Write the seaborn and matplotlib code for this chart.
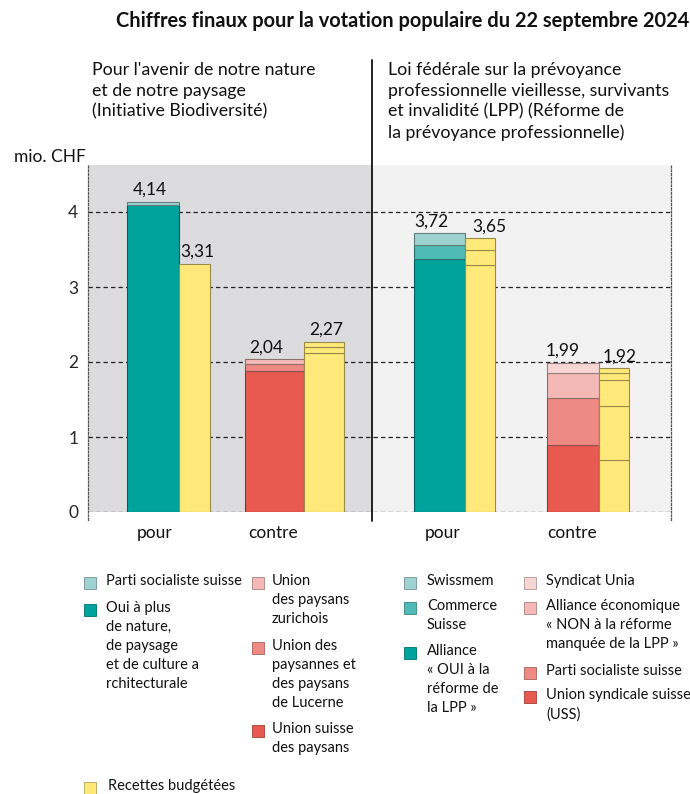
import matplotlib
matplotlib.use("Agg")
import matplotlib.pyplot as plt
import matplotlib.colors as mcolors
from matplotlib.patches import Rectangle
from matplotlib.lines import Line2D
import seaborn as sns

# ---------------- data ----------------
title = "Chiffres finaux pour la votation populaire du 22 septembre 2024"
left_subtitle = "Pour l'avenir de notre nature\net de notre paysage\n(Initiative Biodiversité)"
right_subtitle = ("Loi fédérale sur la prévoyance\nprofessionnelle vieillesse, survivants\n"
                  "et invalidité (LPP) (Réforme de\nla prévoyance professionnelle)")
unit_label = "mio. CHF"
categories = ["pour", "contre", "pour", "contre"]
y_ticks = [0, 1, 2, 3, 4]

# Biodiversité – pour (bottom to top)
bio_pour_names = ["Oui à plus\nde nature,\nde paysage\net de culture a\nrchitecturale",
                  "Parti socialiste suisse"]
bio_pour_values = [4.10, 0.04]
bio_budget_pour = [3.31]
# Biodiversité – contre (bottom to top)
bio_contre_names = ["Union suisse\ndes paysans",
                    "Union des\npaysannes et\ndes paysans\nde Lucerne",
                    "Union\ndes paysans\nzurichois"]
bio_contre_values = [1.88, 0.10, 0.06]
bio_budget_contre = [2.12, 0.08, 0.07]
# LPP – pour (bottom to top)
lpp_pour_names = ["Alliance\n« OUI à la\nréforme de\nla LPP »", "Commerce\nSuisse", "Swissmem"]
lpp_pour_values = [3.38, 0.18, 0.16]
lpp_budget_pour = [3.29, 0.20, 0.16]
# LPP – contre (bottom to top)
lpp_contre_names = ["Union syndicale suisse\n(USS)", "Parti socialiste suisse",
                    "Alliance économique\n« NON à la réforme\nmanquée de la LPP »", "Syndicat Unia"]
lpp_contre_values = [0.90, 0.62, 0.34, 0.13]
lpp_budget_contre = [0.70, 0.71, 0.35, 0.10, 0.06]
budget_name = "Recettes budgétées"

# ---------------- style ----------------
TEAL = "#00A29C"
TEAL_M = "#4FBAB6"
TEAL_L = "#9ED3D1"
RED = "#E8594F"
SALMON = "#EE8A83"
PINK = "#F4B9B6"
PINK_L = "#F8D6D4"
YELLOW = "#FFE97A"

bio_pour_colors = [TEAL, TEAL_L]
bio_contre_colors = [RED, SALMON, PINK]
lpp_pour_colors = [TEAL, TEAL_M, TEAL_L]
lpp_contre_colors = [RED, SALMON, PINK, PINK_L]

sns.set_style("white")
FONT = ["Lato", "DejaVu Sans"]
plt.rcParams["font.family"] = FONT

W, H = 690, 794
fig = plt.figure(figsize=(W / 100, H / 100), dpi=100)

def fx(px):
    return px / W

def fy(py):
    return 1 - py / H

ax_left, ax_right, ax_top, ax_bot = 88, 671, 165, 512
ax = fig.add_axes([fx(ax_left), fy(ax_bot), fx(ax_right - ax_left), (ax_bot - ax_top) / H])
px_per_unit = 75.0
ymax = (ax_bot - ax_top) / px_per_unit
ax.set_xlim(ax_left, ax_right)
ax.set_ylim(0, ymax)

# panel backgrounds
divider = 372
ax.add_patch(Rectangle((ax_left, 0), divider - ax_left, 10, facecolor="#DCDCDE", edgecolor="none", zorder=0))
ax.add_patch(Rectangle((divider, 0), ax_right - divider, 10, facecolor="#F2F2F2", edgecolor="none", zorder=0))

# gridlines
ax.set_yticks(y_ticks)
ax.set_yticklabels([str(t) for t in y_ticks], fontsize=12.5)
ax.tick_params(axis="y", length=0, pad=7)
ax.set_xticks([])
for t in y_ticks:
    ax.axhline(t, color="#222222", lw=0.9, ls=(0, (3.5, 2.5)), zorder=1)

for s in ["top", "bottom"]:
    ax.spines[s].set_visible(False)
for s in ["left", "right"]:
    ax.spines[s].set_linestyle((0, (1.5, 1.5)))
    ax.spines[s].set_color("#555555")
    ax.spines[s].set_linewidth(0.9)
    ax.spines[s].set_bounds(-0.11, ymax)
ax.set_facecolor("none")

def darker(c, f=0.55):
    r, g, b = mcolors.to_rgb(c)
    return (r * f, g * f, b * f)

def stack(x0, width, values, colors):
    bottom = 0.0
    for v, c in zip(values, colors):
        ax.bar(x0, v, width=width, bottom=bottom, align="edge", color=c,
               edgecolor=darker(c, 0.6), linewidth=0.8, zorder=3)
        bottom += v
    return bottom

def label(xc, total, dy=0.0):
    ax.text(xc, total + 0.05 + dy, f"{total:.2f}".replace(".", ","), ha="center", va="bottom",
            fontsize=12.5, color="#111111", zorder=5)

# bar layout (left edge px, width px)
t = stack(127, 51.5, bio_pour_values, bio_pour_colors); label(150, t)
t = stack(178.5, 31, bio_budget_pour, [YELLOW] * len(bio_budget_pour)); label(197, t)
t = stack(244.5, 59, bio_contre_values, bio_contre_colors); label(266, t)
t = stack(303.5, 40, bio_budget_contre, [YELLOW] * len(bio_budget_contre)); label(326, t)
t = stack(413.5, 51, lpp_pour_values, lpp_pour_colors); label(431, t)
t = stack(464.5, 30, lpp_budget_pour, [YELLOW] * len(lpp_budget_pour)); label(489, t)
t = stack(546.5, 52, lpp_contre_values, lpp_contre_colors); label(563, t)
t = stack(598.5, 30, lpp_budget_contre, [YELLOW] * len(lpp_budget_contre)); label(620, t)

# category labels
for xc, name in zip([155, 273, 443, 572], categories):
    fig.text(fx(xc), fy(533), name, ha="center", va="center", fontsize=12.5, color="#111111")

# divider line
fig.add_artist(Line2D([fx(divider), fx(divider)], [fy(60), fy(521)], color="#111111", lw=1.3))

# titles
fig.text(fx(689), fy(21), title, ha="right", va="center", fontsize=14.4, fontweight="bold", color="#111111")
fig.text(fx(92), fy(62), left_subtitle, ha="left", va="top", fontsize=12.8, linespacing=1.36, color="#111111")
fig.text(fx(388), fy(62), right_subtitle, ha="left", va="top", fontsize=12.8, linespacing=1.36, color="#111111")
fig.text(fx(14), fy(157), unit_label, ha="left", va="center", fontsize=12.5, color="#111111")

# legend
def legend_item(sx, tx, y, text, color):
    fig.add_artist(Rectangle((fx(sx), fy(y + 6)), fx(12), 12 / H, facecolor=color,
                             edgecolor=darker(color, 0.7), lw=0.6))
    fig.text(fx(tx), fy(y - 9), text, ha="left", va="top", fontsize=10.5, linespacing=1.45, color="#111111")

legend_item(84, 106, 583, bio_pour_names[1], bio_pour_colors[1])
legend_item(84, 106, 610, bio_pour_names[0], bio_pour_colors[0])
legend_item(252, 272, 583, bio_contre_names[2], bio_contre_colors[2])
legend_item(252, 272, 648, bio_contre_names[1], bio_contre_colors[1])
legend_item(252, 272, 731, bio_contre_names[0], bio_contre_colors[0])
legend_item(84, 108, 788, budget_name, YELLOW)

legend_item(404, 427, 583, lpp_pour_names[2], lpp_pour_colors[2])
legend_item(404, 427, 608, lpp_pour_names[1], lpp_pour_colors[1])
legend_item(404, 427, 653, lpp_pour_names[0], lpp_pour_colors[0])
legend_item(524, 546, 583, lpp_contre_names[3], lpp_contre_colors[3])
legend_item(524, 546, 608, lpp_contre_names[2], lpp_contre_colors[2])
legend_item(524, 546, 673, lpp_contre_names[1], lpp_contre_colors[1])
legend_item(524, 546, 697, lpp_contre_names[0], lpp_contre_colors[0])

fig.savefig("out.png", dpi=100, facecolor="white")
